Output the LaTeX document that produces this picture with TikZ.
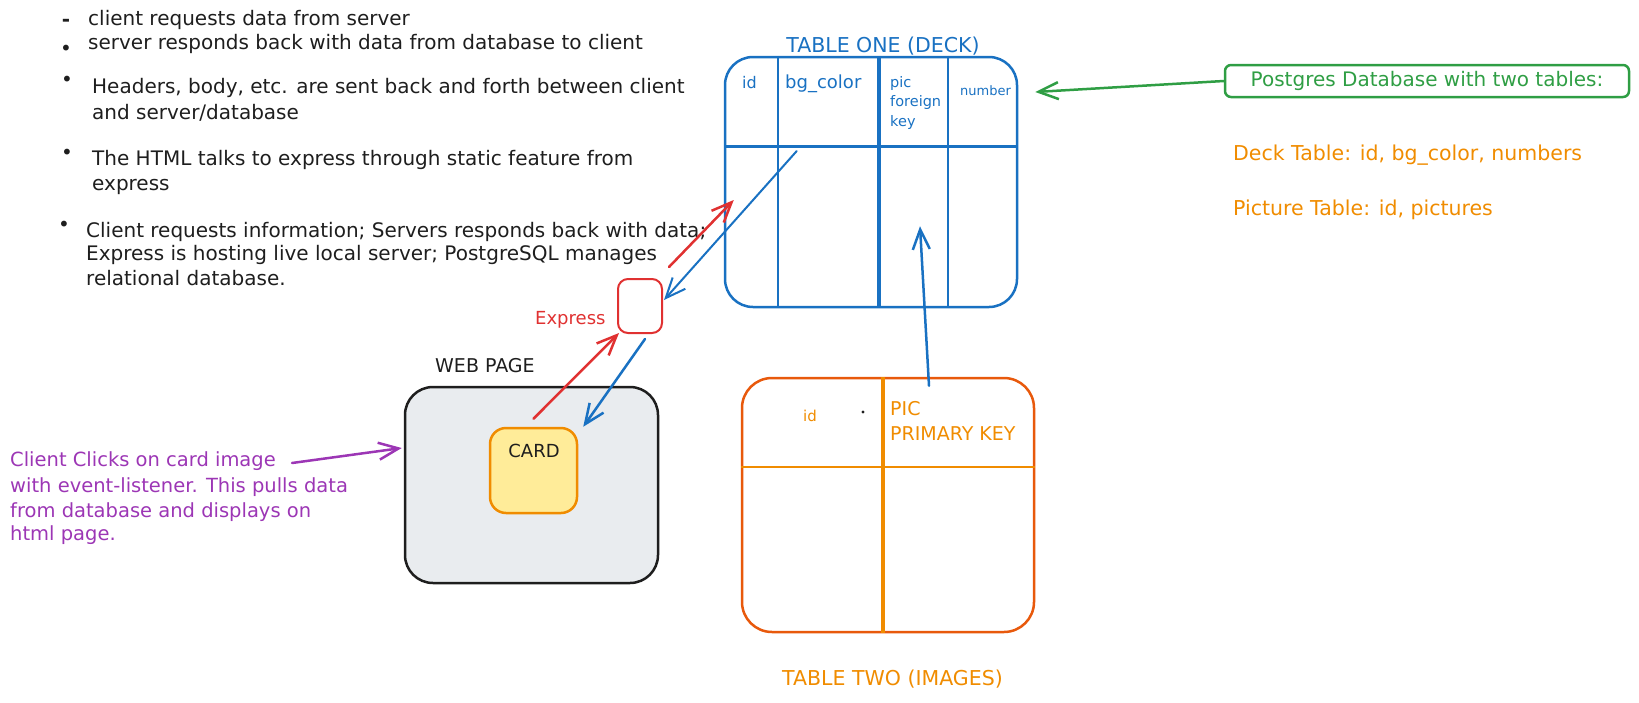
\documentclass[tikz,border=0pt]{standalone}
\usepackage{fontspec}
\setmainfont{DejaVu Sans}
\usetikzlibrary{arrows.meta,calc}
\definecolor{ink}{HTML}{1E1E1E}
\definecolor{cblue}{HTML}{1971C2}
\definecolor{cred}{HTML}{E03131}
\definecolor{cgreen}{HTML}{2F9E44}
\definecolor{corange}{HTML}{F08C00}
\definecolor{cdeep}{HTML}{E8590C}
\definecolor{cpurple}{HTML}{9C36B5}
\definecolor{cardfill}{HTML}{FFEC99}
\definecolor{webfill}{HTML}{E9ECEF}
\newcommand{\fsz}[1]{\fontsize{#1}{#1}\selectfont}
\begin{document}
\begin{tikzpicture}[x=1pt,y=-1pt,
  txt/.style={font=\fsz{20}, text=ink, inner sep=0, anchor=mid west},
  bul/.style={font=\fsz{20}, text=ink, inner sep=0},
  ptxt/.style={font=\fsz{19.5}, text=cpurple, inner sep=0, anchor=mid west},
  otxt/.style={font=\fsz{20.5}, text=corange, inner sep=0, anchor=mid west},
  lbl/.style={inner sep=0, anchor=base west},
  box/.style={inner sep=0, line width=2.5pt},
  arr/.style={-{Straight Barb[length=20pt,width=17pt]}, line width=2.5pt, line cap=round, line join=round},
]
\useasboundingbox (0,0) rectangle (1639,702);

% bullets and notes
\node[bul, anchor=base, font=\bfseries\fsz{20}] (b0) at (66,26) {-};
\node[bul] (b1) at (66,50) {•};
\node[bul] (b2) at (67,81) {•};
\node[bul] (b3) at (67,154) {•};
\node[bul] (b4) at (64,226) {•};
\node[txt] (l1) at (88,23) {client requests data from server};
\node[txt] (l2) at (88,47) {server responds back with data from database to client};
\node[txt] (l3a) at (92,91) {Headers, body, etc. are sent back and forth between client};
\node[txt] (l3b) at (92,117) {and server/database};
\node[txt] (l4a) at (92,163) {The HTML talks to express through static feature from};
\node[txt] (l4b) at (92,188) {express};
\node[txt] (l5a) at (86,235) {Client requests information; Servers responds back with data;};
\node[txt] (l5b) at (86,258) {Express is hosting live local server; PostgreSQL manages};
\node[txt] (l5c) at (86,283) {relational database.};

% table one
\node[box, draw=cblue, rounded corners=28pt, minimum width=292pt, minimum height=250pt] (t1) at (871,182) {};
\draw[cblue, line width=2.5pt] (778,0 |- t1.north) -- (778,0 |- t1.south);
\draw[cblue, line width=3.5pt] (879,0 |- t1.north) -- (879,0 |- t1.south);
\draw[cblue, line width=2.5pt] (948,0 |- t1.north) -- (948,0 |- t1.south);
\draw[cblue, line width=3pt] (t1.west |- 0,146) -- (t1.east |- 0,146);
\node[lbl, anchor=base, font=\fsz{20.5}, text=cblue] (t1title) at (883,52) {TABLE ONE (DECK)};
\node[lbl, font=\fsz{16}, text=cblue] (h1) at (742,88) {id};
\node[lbl, font=\fsz{18}, text=cblue] (h2) at (785,88) {bg\_color};
\node[lbl, font=\fsz{14.5}, text=cblue] (h3a) at (890,87) {pic};
\node[lbl, font=\fsz{14.5}, text=cblue] (h3b) at (890,106) {foreign};
\node[lbl, font=\fsz{14.5}, text=cblue] (h3c) at (890,126) {key};
\node[lbl, font=\fsz{13}, text=cblue] (h4) at (960,95) {number};

% table two
\node[box, draw=cdeep, rounded corners=30pt, minimum width=292pt, minimum height=254pt] (t2) at (888,505) {};
\draw[corange, line width=3.5pt] (883,0 |- t2.north) -- (883,0 |- t2.south);
\draw[corange, line width=2pt] (t2.west |- 0,467) -- (t2.east |- 0,467);
\node[lbl, font=\fsz{15}, text=corange] (k1) at (803,421) {id};
\fill[ink] (863,412) circle (1.6);
\node[lbl, font=\fsz{19}, text=corange] (k2a) at (890,415) {PIC};
\node[lbl, font=\fsz{19}, text=corange] (k2b) at (890,440) {PRIMARY KEY};
\node[lbl, font=\fsz{20.5}, text=corange] (t2title) at (782,685) {TABLE TWO (IMAGES)};

% web page
\node[box, draw=ink, fill=webfill, rounded corners=28pt, minimum width=253pt, minimum height=196pt] (web) at (531.5,485) {};
\node[lbl, font=\fsz{19}, text=ink] (webtitle) at (435,372) {WEB PAGE};
\node[box, draw=corange, fill=cardfill, rounded corners=16pt, minimum width=87pt, minimum height=85pt] (card) at (533.5,470.5) {};
\node[lbl, anchor=base, font=\fsz{18}, text=ink] (cardtxt) at (534,457) {CARD};

% express
\node[box, draw=cred, line width=2pt, rounded corners=10pt, minimum width=44pt, minimum height=54pt] (exp) at (640,306) {};
\node[lbl, font=\fsz{18}, text=cred] (exptxt) at (535,324) {Express};

% green note
\node[box, draw=cgreen, rounded corners=6pt, minimum width=404pt, minimum height=32pt, font=\fsz{20}, text=cgreen] (gbox) at (1427,81) {Postgres Database with two tables:};
\node[otxt] (o1) at (1233,158) {Deck Table: id, bg\_color, numbers};
\node[otxt] (o2) at (1233,213) {Picture Table: id, pictures};

% purple note
\node[ptxt] (p1) at (10,464) {Client Clicks on card image};
\node[ptxt] (p2) at (10,490) {with event-listener. This pulls data};
\node[ptxt] (p3) at (10,515) {from database and displays on};
\node[ptxt] (p4) at (10,538) {html page.};
\coordinate (pstart) at (292,463);

% connectors
\draw[arr, cred] ($(card.north)+(0,-8)$) -- ($(exp.south west)+(2,-1)$);
\draw[arr, cblue] ($(exp.south)+(5,5)$) -- ($(card.north east)+(5,0)$);
\draw[arr, cred] ($(exp.north east)+(6,-11)$) -- ($(t1.west)+(10,18)$);
\draw[arr, cblue, line width=2pt] ($(t1.west)+(73,-31)$) -- ($(exp.east)+(1,-6)$);
\draw[arr, cblue] ($(t2.north)+(41,9)$) -- ($(t1.south)+(49,-82)$);
\draw[arr, cgreen] (gbox.west) -- ($(t1.east)+(17,-90)$);
\draw[arr, cpurple] (pstart) -- ($(web.west)+(-2,-37)$);
\end{tikzpicture}
\end{document}
